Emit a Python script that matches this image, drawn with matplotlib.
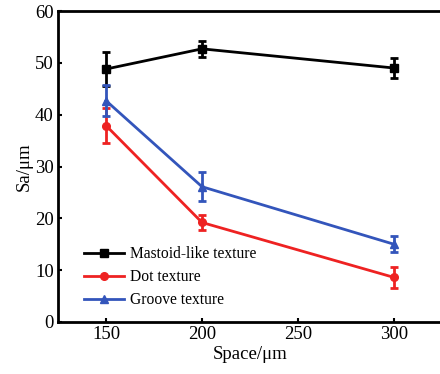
import matplotlib
matplotlib.use("Agg")
import matplotlib.pyplot as plt
from matplotlib.lines import Line2D

matplotlib.rcParams["font.family"] = "Liberation Serif"

# Data
space = [150, 200, 300]
mastoid = [48.8, 52.7, 49.0]
mastoid_err = [3.2, 1.5, 2.0]
dot = [37.9, 19.2, 8.6]
dot_err = [3.3, 1.4, 2.0]
groove = [42.7, 26.1, 15.0]
groove_err = [3.0, 2.8, 1.5]

fig = plt.figure(figsize=(4.4, 3.74), dpi=100)
ax = fig.add_axes([58 / 440, 1 - 322 / 374, 384 / 440, 311 / 374])

series = [
    (mastoid, mastoid_err, "black", "s", "Mastoid-like texture"),
    (dot, dot_err, "#ee2222", "o", "Dot texture"),
    (groove, groove_err, "#3355bb", "^", "Groove texture"),
]
handles = []
for vals, errs, c, m, lab in series:
    ax.errorbar(space, vals, yerr=errs, color=c, marker=m, markersize=5.5,
                linewidth=2, elinewidth=2, capsize=3, capthick=2)
    handles.append(Line2D([], [], color=c, marker=m, markersize=5.5,
                          linewidth=2, label=lab))

ax.set_xlim(125, 325)
ax.set_ylim(0, 60)
ax.set_xticks([150, 200, 250, 300])
ax.set_yticks([0, 10, 20, 30, 40, 50, 60])
ax.tick_params(direction="in", length=3, width=1.5, labelsize=13.5, pad=3)
for s in ax.spines.values():
    s.set_linewidth(2)
ax.set_xlabel("Space/\u03bcm", fontsize=13.5, labelpad=2)
ax.set_ylabel("Sa/\u03bcm", fontsize=13.5, labelpad=2)

ax.legend(handles=handles, loc="lower left", bbox_to_anchor=(0.03, 0.0),
          frameon=False, fontsize=11.2, handlelength=2.6, labelspacing=0.45,
          handletextpad=0.4)

fig.savefig("out.png", dpi=100)
